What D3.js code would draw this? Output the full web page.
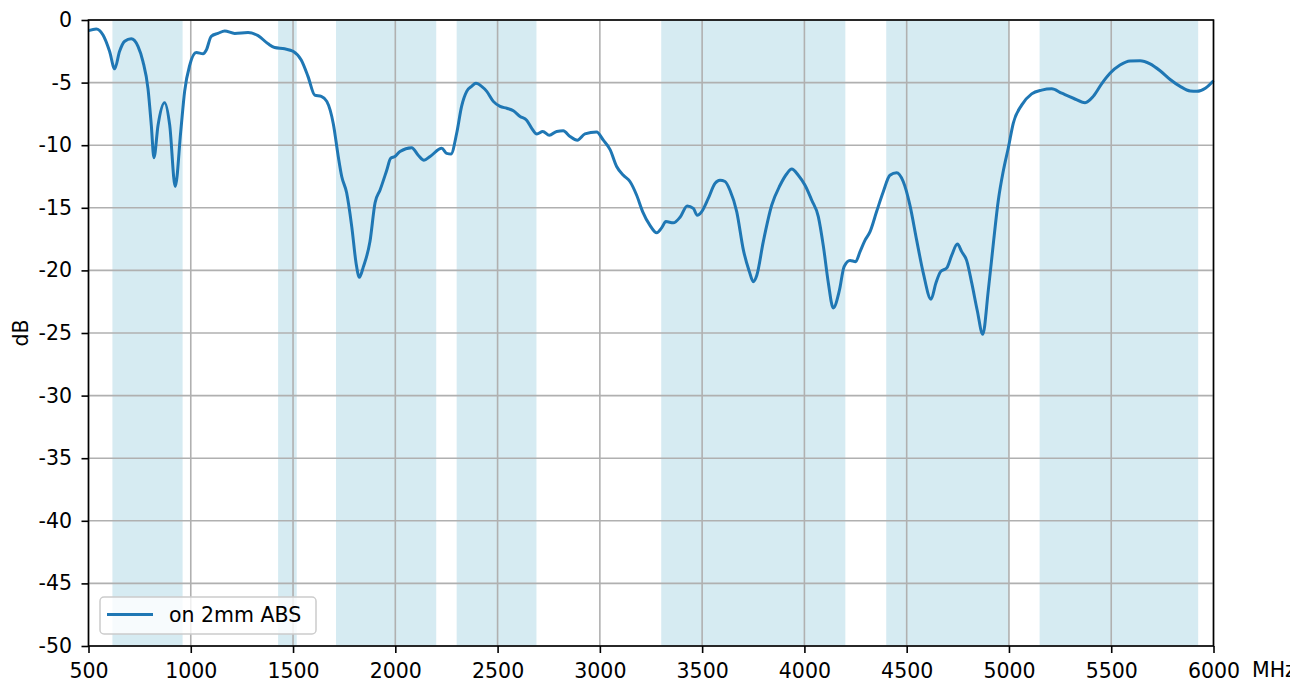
<!DOCTYPE html>
<meta charset="utf-8">
<html>
<head>
    <title>Return loss on 2mm ABS</title>
    <script src="https://cdn.jsdelivr.net/npm/d3@7"></script>
</head>
<style>
    body{ margin: 0; background: white; }
    svg{ display: block; }
    text{ font-family: "DejaVu Sans", sans-serif; fill: #000; }
    .grid line{ stroke: #b0b0b0; stroke-width: 1.6px; }
</style>
<body>
<svg width="1306" height="684"></svg>
<script>
    // measured curve (MHz, dB)
    let freqs = [500,538,571,603,628,652,677,709,742,766,791,807,820,840,872,897,924,951,970,995,
        1027,1060,1076,1100,1133,1166,1215,1280,1329,1378,1410,1459,1500,1540,1573,1606,1638,1665,1697,1721,
        1738,1762,1787,1808,1824,1844,1876,1901,1925,1958,1977,1998,2023,2080,2112,2140,2170,2227,2251,2272,
        2300,2324,2349,2373,2394,2422,2447,2479,2512,2545,2577,2610,2642,2667,2692,2721,2753,2789,2821,2854,
        2890,2927,2984,3017,3050,3082,3115,3147,3180,3209,3245,3278,3302,3323,3359,3392,3427,3457,3476,3498,
        3530,3563,3587,3612,3636,3669,3702,3731,3750,3767,3799,3840,3881,3913,3938,3970,4003,4036,4068,4093,
        4117,4141,4171,4194,4223,4250,4272,4296,4321,4353,4386,4418,4451,4483,4516,4549,4581,4619,4643,4666,
        4696,4720,4748,4769,4793,4818,4845,4872,4899,4924,4948,4973,4997,5021,5062,5111,5160,5209,5258,5315,
        5372,5412,5453,5494,5543,5592,5641,5690,5739,5788,5837,5886,5919,5960,6000]
    let dbValues = [-0.85,-0.72,-1.2,-2.5,-3.9,-2.5,-1.7,-1.5,-2.1,-3.3,-5.5,-8.4,-11.0,-8.4,-6.6,-8.4,-13.3,-8.9,-5.7,-3.6,
        -2.6,-2.7,-2.4,-1.3,-1.07,-0.88,-1.07,-1.0,-1.25,-1.9,-2.2,-2.3,-2.5,-3.2,-4.5,-6.0,-6.1,-6.5,-8.3,-10.9,
        -12.5,-13.8,-16.5,-19.4,-20.55,-19.7,-17.7,-14.6,-13.6,-12.0,-11.05,-10.9,-10.5,-10.2,-10.8,-11.2,-10.9,-10.25,-10.65,-10.7,
        -9.05,-6.9,-5.7,-5.3,-5.06,-5.3,-5.7,-6.5,-6.9,-7.05,-7.25,-7.7,-8.0,-8.65,-9.1,-8.9,-9.2,-8.9,-8.85,-9.3,
        -9.6,-9.1,-8.95,-9.6,-10.35,-11.7,-12.4,-12.9,-14.0,-15.3,-16.4,-17.0,-16.6,-16.1,-16.2,-15.75,-14.85,-15.05,-15.6,-15.3,
        -14.25,-13.05,-12.8,-12.9,-13.6,-15.3,-18.4,-20.1,-20.9,-20.4,-17.7,-14.8,-13.2,-12.3,-11.9,-12.4,-13.2,-14.4,-15.7,-18.1,
        -21.0,-23.0,-21.6,-19.7,-19.2,-19.3,-18.5,-17.6,-16.9,-15.3,-13.7,-12.4,-12.2,-12.9,-14.8,-17.6,-20.2,-22.3,-21.0,-20.1,
        -19.8,-18.8,-17.9,-18.5,-19.2,-21.0,-23.2,-25.1,-21.6,-17.8,-14.4,-12.0,-10.2,-8.25,-6.8,-5.9,-5.6,-5.5,-5.85,-6.25,
        -6.6,-6.1,-5.1,-4.26,-3.6,-3.27,-3.25,-3.5,-4.05,-4.75,-5.3,-5.67,-5.7,-5.45,-4.85]

    // shaded frequency bands
    let bandStart = [617, 1427, 1710, 2300, 3300, 4400, 5150]
    let bandEnd   = [960, 1518, 2200, 2690, 4200, 5000, 5925]

    let xTicks = [500,1000,1500,2000,2500,3000,3500,4000,4500,5000,5500,6000]
    let yTicks = [0,-5,-10,-15,-20,-25,-30,-35,-40,-45,-50]
    let seriesName = "on 2mm ABS"

    let data = freqs.map((f, i) => ({f: f, v: dbValues[i]}))

    let pLeft = 88.5, pRight = 1213.5, pTop = 20, pBottom = 646
    let svg = d3.select("svg")
    let x = d3.scaleLinear().domain([500, 6000]).range([pLeft, pRight])
    let y = d3.scaleLinear().domain([-50, 0]).range([pBottom, pTop])

    // bands
    svg.append("g").selectAll("rect")
        .data(bandStart)
        .enter().append("rect")
        .attr("x", (d, i) => x(d))
        .attr("width", (d, i) => x(bandEnd[i]) - x(d))
        .attr("y", pTop)
        .attr("height", pBottom - pTop)
        .attr("fill", "lightblue")
        .attr("fill-opacity", 0.5)

    // grid
    let grid = svg.append("g").attr("class", "grid")
    grid.selectAll(".gx").data(xTicks).enter().append("line")
        .attr("x1", d => x(d)).attr("x2", d => x(d))
        .attr("y1", pTop).attr("y2", pBottom)
    grid.selectAll(".gy").data(yTicks).enter().append("line")
        .attr("x1", pLeft).attr("x2", pRight)
        .attr("y1", d => y(d)).attr("y2", d => y(d))

    // curve
    let line = d3.line().x(d => x(d.f)).y(d => y(d.v)).curve(d3.curveMonotoneX)
    svg.append("path").datum(data)
        .attr("d", line)
        .attr("fill", "none")
        .attr("stroke", "#1f77b4")
        .attr("stroke-width", 3)
        .attr("stroke-linejoin", "round")

    // axes
    let xAxis = svg.append("g").attr("transform", `translate(0,${pBottom})`)
        .call(d3.axisBottom(x).tickValues(xTicks).tickFormat(d3.format("d")).tickSize(7).tickPadding(10).tickSizeOuter(0))
    let yAxis = svg.append("g").attr("transform", `translate(${pLeft},0)`)
        .call(d3.axisLeft(y).tickValues(yTicks).tickFormat(d => String(d)).tickSize(7).tickPadding(9.5).tickSizeOuter(0))
    for (let ax of [xAxis, yAxis]) {
        ax.selectAll("text").style("font-size", "20.5px").attr("fill", "#000")
        ax.selectAll("line").attr("stroke", "#000").attr("stroke-width", 1.6)
        ax.select(".domain").remove()
    }

    // frame
    svg.append("rect")
        .attr("x", pLeft).attr("y", pTop)
        .attr("width", pRight - pLeft).attr("height", pBottom - pTop)
        .attr("fill", "none").attr("stroke", "#000").attr("stroke-width", 1.6)

    // axis labels (unit label is cut off at the picture edge)
    svg.append("defs").append("clipPath").attr("id", "edge")
        .append("rect").attr("x", 0).attr("y", 0).attr("width", 1290).attr("height", 684)
    svg.append("text")
        .attr("x", 1252).attr("y", 677)
        .attr("clip-path", "url(#edge)")
        .style("font-size", "20.5px")
        .text("MHz")
    svg.append("text")
        .attr("transform", "translate(28,333) rotate(-90)")
        .attr("text-anchor", "middle")
        .style("font-size", "20.5px")
        .text("dB")

    // legend
    let lg = svg.append("g")
    lg.append("rect")
        .attr("x", 100).attr("y", 597).attr("width", 216).attr("height", 37).attr("rx", 4)
        .attr("fill", "white").attr("fill-opacity", 0.8)
        .attr("stroke", "#cccccc").attr("stroke-width", 1.5)
    lg.append("line")
        .attr("x1", 107).attr("x2", 153).attr("y1", 614.5).attr("y2", 614.5)
        .attr("stroke", "#1f77b4").attr("stroke-width", 3)
    lg.append("text")
        .attr("x", 169).attr("y", 622)
        .style("font-size", "20.5px")
        .text(seriesName)
</script>
</body>
</html>
